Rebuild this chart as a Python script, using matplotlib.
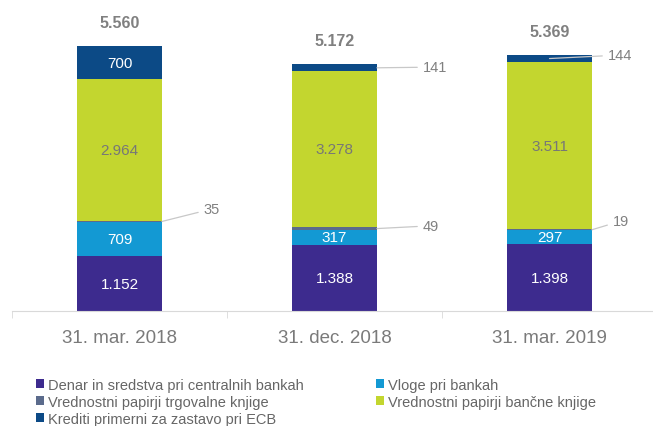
import numpy as np
import matplotlib
matplotlib.use('Agg')
import matplotlib.pyplot as plt

plt.rcParams['font.family'] = ['Liberation Sans', 'DejaVu Sans']

# podatki (v mio EUR)
datumi = ['31. mar. 2018', '31. dec. 2018', '31. mar. 2019']
serije = ['Denar in sredstva pri centralnih bankah',
          'Vloge pri bankah',
          'Vrednostni papirji trgovalne knjige',
          'Vrednostni papirji bančne knjige',
          'Krediti primerni za zastavo pri ECB']
denar = [1152, 1388, 1398]
vloge = [709, 317, 297]
trgovalna = [35, 49, 19]
bancna = [2964, 3278, 3511]
krediti = [700, 141, 144]
skupaj = [5560, 5172, 5369]

barve = ['#3d2b8e', '#1399d3', '#5b6b8c', '#c3d62f', '#0c4a86']
vrednosti = [denar, vloge, trgovalna, bancna, krediti]


def fmt(v):
    return '{:,}'.format(v).replace(',', '.')


fig = plt.figure(figsize=(6.53, 4.27), dpi=100)
ax = fig.add_axes([12 / 653, 1 - 312 / 427, 645 / 653, 312 / 427])

x = np.arange(len(datumi))
sirina = 0.395
dno = np.zeros(len(datumi))
stolpci = []
for ime, vals, c in zip(serije, vrednosti, barve):
    b = ax.bar(x, vals, sirina, bottom=dno, color=c, label=ime, linewidth=0)
    stolpci.append(b)
    dno = dno + np.array(vals)

ax.set_xlim(-0.5, 2.5)
ax.set_ylim(0, 6546)

# oznake v stolpcih
notranje = {0: ('white', [0, 1, 2]), 1: ('white', [0, 1, 2]),
            3: ('#777777', [0, 1, 2]), 4: ('white', [0])}
spodaj = np.zeros(len(datumi))
meje = []
for i, vals in enumerate(vrednosti):
    meje.append(spodaj.copy())
    spodaj = spodaj + np.array(vals)
for s, (barva, idx) in notranje.items():
    for j in idx:
        yc = meje[s][j] + vrednosti[s][j] / 2
        ax.text(x[j], yc, fmt(vrednosti[s][j]), ha='center', va='center',
                color=barva, fontsize=11)

# skupne vsote
for j in range(len(datumi)):
    ax.annotate(fmt(skupaj[j]), (x[j], dno[j]), xytext=(0, 17),
                textcoords='offset points', ha='center', va='center',
                fontsize=11.5, fontweight='bold', color='#808080')

# zunanje oznake s črtami
crta = dict(arrowstyle='-', color='#c8c8c8', lw=0.9, shrinkA=2, shrinkB=0)
zunanje = [(2, 0, sirina / 2, (30, 9)),
           (2, 1, sirina / 2, (33, 2)),
           (4, 1, sirina / 2, (33, 0.5)),
           (2, 2, sirina / 2, (15, 6.3)),
           (4, 2, 0.0, (42, 2.5))]
for s, j, dx, off in zunanje:
    yc = meje[s][j] + vrednosti[s][j] / 2
    ax.annotate(fmt(vrednosti[s][j]), (x[j] + dx, yc), xytext=off,
                textcoords='offset points', ha='left', va='center',
                fontsize=10.5, color='#808080', arrowprops=crta)

# os
for sp in ['top', 'right', 'left']:
    ax.spines[sp].set_visible(False)
ax.spines['bottom'].set_color('#d9d9d9')
ax.set_yticks([])
ax.set_xticks(x)
ax.set_xticklabels(datumi, fontsize=13.5, color='#7a7a7a')
ax.tick_params(axis='x', which='major', length=0, pad=13)
ax.set_xticks([-0.5, 0.5, 1.5], minor=True)
ax.tick_params(axis='x', which='minor', length=5, color='#d9d9d9')

# legenda
h = [stolpci[0], stolpci[2], stolpci[4], stolpci[1], stolpci[3]]
l = [serije[0], serije[2], serije[4], serije[1], serije[3]]
fig.legend(h, l, loc='upper left', bbox_to_anchor=(36 / 653, 1 - 379 / 427),
           ncol=2, frameon=False, fontsize=10.5, handlelength=0.55,
           handleheight=0.55, handletextpad=0.25, columnspacing=5.0,
           labelspacing=0.2, borderaxespad=0, borderpad=0,
           labelcolor='#666666')

fig.savefig('out.png', dpi=100)
